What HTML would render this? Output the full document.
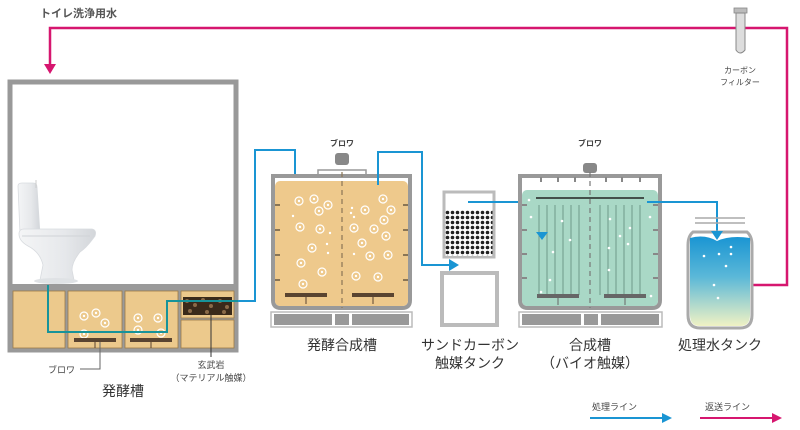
<!DOCTYPE html>
<html><head><meta charset="utf-8"><style>
html,body{margin:0;padding:0;background:#fff;}
svg{display:block;font-family:"Liberation Sans","Noto Sans CJK JP",sans-serif;}
</style></head><body>
<svg width="800" height="430" viewBox="0 0 800 430">
<defs>
<linearGradient id="wg" x1="0" y1="0" x2="0" y2="1">
<stop offset="0" stop-color="#1a95d3"/><stop offset="0.45" stop-color="#5bb8d8"/><stop offset="1" stop-color="#f0f2c4"/></linearGradient>
<linearGradient id="tg" x1="0" y1="0" x2="1" y2="0">
<stop offset="0" stop-color="#f4f5f6"/><stop offset="0.6" stop-color="#e6e8eb"/><stop offset="1" stop-color="#d3d6da"/></linearGradient>
<pattern id="dots" width="5" height="5" patternUnits="userSpaceOnUse"><rect width="5" height="5" fill="#fff"/><circle cx="2.5" cy="2.5" r="1.8" fill="#222"/></pattern>
<symbol id="bb" overflow="visible"><circle cx="0" cy="0" r="4" fill="none" stroke="#fff" stroke-width="1.2"/><circle cx="0" cy="0" r="1.2" fill="#fff"/></symbol>
</defs>
<text x="40" y="17" font-size="11" fill="#555" font-weight="bold">トイレ洗浄用水</text>
<polyline points="752,285 787,285 787,28 50,28 50,66" fill="none" stroke="#d6166f" stroke-width="2.5"/>
<path d="M44,64 L56,64 L50,74z" fill="#d6166f"/>
<rect x="734" y="8" width="13" height="5" fill="#bbb" stroke="#888" stroke-width="0.8"/>
<path d="M736,13 L745,13 L745,50 Q740,56 736,50z" fill="#ddd" stroke="#888" stroke-width="1"/>
<text x="740" y="73" font-size="8" fill="#444" text-anchor="middle">カーボン</text>
<text x="740" y="85" font-size="8" fill="#444" text-anchor="middle">フィルター</text>

<rect x="10" y="82" width="226" height="268" fill="#fff" stroke="#999" stroke-width="5"/>
<rect x="10" y="284" width="226" height="66" fill="#9a9a9a"/>
<g fill="#ecc98c" stroke="#9b7a48" stroke-width="0.8">
<rect x="13" y="291" width="52" height="57"/>
<rect x="68" y="291" width="54" height="57"/>
<rect x="125" y="291" width="53" height="57"/>
<rect x="181" y="291" width="53" height="27"/>
<rect x="181" y="320" width="53" height="28"/>
</g>
<rect x="183" y="297" width="49" height="18" fill="#3a2a1a"/>
<g fill="#8a6a48"><circle cx="187" cy="301" r="2"/><circle cx="195" cy="305" r="2"/><circle cx="203" cy="300" r="2"/><circle cx="211" cy="306" r="2"/><circle cx="220" cy="301" r="2"/><circle cx="227" cy="307" r="2"/><circle cx="190" cy="311" r="2"/><circle cx="207" cy="312" r="2"/><circle cx="224" cy="312" r="2"/></g>
<!-- toilet -->
<path d="M18,186 Q18,183 22,183 L33,183 Q37,183 37,187 L40,234 L20,234z" fill="url(#tg)" stroke="#d8dbdf" stroke-width="0.8"/>
<path d="M36,180 L36,188" stroke="#ccc"/>
<path d="M19,234 Q19,229 24,229 L92,229 Q97,230 95,236 L92,240 Q86,248 80,252 Q72,262 72,270 L74,280 Q60,284 40,280 L43,265 Q40,252 28,246 Q19,241 19,234z" fill="url(#tg)" stroke="#d8dbdf" stroke-width="0.8"/>
<path d="M22,236 L90,236" stroke="#d0d3d7" stroke-width="1"/>
<ellipse cx="56" cy="281" rx="22" ry="3" fill="#dfe2e5"/>
<!-- bubbles -->
<use href="#bb" x="84" y="316"/><use href="#bb" x="96" y="313"/><use href="#bb" x="105" y="323"/><use href="#bb" x="84" y="334"/>
<use href="#bb" x="138" y="318"/><use href="#bb" x="158" y="318"/><use href="#bb" x="138" y="330"/><use href="#bb" x="161" y="333"/>
<rect x="74" y="338" width="42" height="4" fill="#5a4430"/><rect x="130" y="338" width="42" height="4" fill="#5a4430"/>
<line x1="95" y1="342" x2="95" y2="348" stroke="#5a4430"/><line x1="151" y1="342" x2="151" y2="348" stroke="#5a4430"/>
<polyline points="48,285 48,332 167,332 167,301 238,301" fill="none" stroke="#17939a" stroke-width="2"/>
<polyline points="238,301 255,301 255,150 295,150 295,184" fill="none" stroke="#1a95d3" stroke-width="2"/>
<path d="M289,184 L301,184 L295,193z" fill="#1a95d3"/>
<text x="48" y="373" font-size="9" fill="#444">ブロワ</text>
<polyline points="80,369 100,369 100,342 M100,369 138,369 138,342" fill="none" stroke="#666"/>
<line x1="211" y1="315" x2="211" y2="357" stroke="#333"/>
<text x="211" y="368" font-size="9" fill="#444" text-anchor="middle">玄武岩</text>
<text x="211" y="381" font-size="9" fill="#444" text-anchor="middle">（マテリアル触媒）</text>
<text x="123" y="396" font-size="14" fill="#333" text-anchor="middle">発酵槽</text>

<text x="342" y="146" font-size="8" fill="#444" text-anchor="middle" font-weight="bold">ブロワ</text>
<rect x="335" y="153" width="14" height="12" rx="3" fill="#888"/>
<rect x="318" y="170" width="48" height="8" fill="#fff" stroke="#999" stroke-width="1.5"/>
<path d="M273,176 L410,176 L410,300 Q410,308 402,308 L281,308 Q273,308 273,300z" fill="#fff" stroke="#999" stroke-width="4"/>
<rect x="275" y="181" width="133" height="125" rx="5" fill="#eec98c"/>
<line x1="342" y1="172" x2="342" y2="308" stroke="#8a7555" stroke-width="1.2" stroke-dasharray="5,4"/>
<g stroke="#8a7555" stroke-width="2"><line x1="275" y1="205" x2="280" y2="205"/><line x1="275" y1="230" x2="280" y2="230"/><line x1="275" y1="255" x2="280" y2="255"/><line x1="275" y1="280" x2="280" y2="280"/><line x1="403" y1="205" x2="408" y2="205"/><line x1="403" y1="230" x2="408" y2="230"/><line x1="403" y1="255" x2="408" y2="255"/><line x1="403" y1="280" x2="408" y2="280"/></g>
<use href="#bb" x="299" y="201"/><use href="#bb" x="314" y="199"/><use href="#bb" x="319" y="211"/><use href="#bb" x="328" y="205"/><use href="#bb" x="300" y="227"/><use href="#bb" x="320" y="229"/><use href="#bb" x="312" y="248"/><use href="#bb" x="301" y="263"/><use href="#bb" x="322" y="272"/><use href="#bb" x="303" y="284"/>
<use href="#bb" x="383" y="199"/><use href="#bb" x="365" y="210"/><use href="#bb" x="391" y="210"/><use href="#bb" x="384" y="220"/><use href="#bb" x="354" y="228"/><use href="#bb" x="374" y="229"/><use href="#bb" x="386" y="236"/><use href="#bb" x="362" y="243"/><use href="#bb" x="370" y="256"/><use href="#bb" x="388" y="255"/><use href="#bb" x="356" y="276"/><use href="#bb" x="378" y="277"/>
<g fill="#fff"><circle cx="293" cy="216" r="1.2"/><circle cx="330" cy="233" r="1.2"/><circle cx="327" cy="244" r="1.2"/><circle cx="328" cy="253" r="1.2"/><circle cx="352" cy="208" r="1.2"/><circle cx="351" cy="213" r="1.2"/><circle cx="354" cy="217" r="1.2"/><circle cx="354" cy="254" r="1.2"/></g>
<rect x="285" y="293" width="42" height="4" fill="#5a4430"/><rect x="352" y="293" width="42" height="4" fill="#5a4430"/>
<line x1="306" y1="297" x2="306" y2="304" stroke="#5a4430"/><line x1="373" y1="297" x2="373" y2="304" stroke="#5a4430"/>
<rect x="271" y="312" width="141" height="15" fill="#fff" stroke="#bbb" stroke-width="1.5"/>
<rect x="274" y="314" width="58" height="11" fill="#999"/><rect x="335" y="314" width="14" height="11" fill="#999"/><rect x="352" y="314" width="57" height="11" fill="#999"/>
<text x="342" y="350" font-size="14" fill="#333" text-anchor="middle">発酵合成槽</text>
<polyline points="378,185 378,152 422,152 422,265 450,265" fill="none" stroke="#1a95d3" stroke-width="2"/>
<path d="M449,259 L459,265 L449,271z" fill="#1a95d3"/>

<rect x="444" y="192" width="50" height="65" fill="#fff" stroke="#bbb" stroke-width="3"/>
<rect x="445.5" y="210" width="47" height="46" fill="url(#dots)"/>
<rect x="442" y="273" width="55" height="52" fill="#fff" stroke="#bbb" stroke-width="4"/>
<polyline points="468,202 542,202 542,230" fill="none" stroke="#1a95d3" stroke-width="2"/>
<text x="470" y="350" font-size="14" fill="#333" text-anchor="middle">サンドカーボン</text>
<text x="470" y="368" font-size="14" fill="#333" text-anchor="middle">触媒タンク</text>

<text x="590" y="146" font-size="8" fill="#444" text-anchor="middle" font-weight="bold">ブロワ</text>
<rect x="583" y="163" width="14" height="10" rx="3" fill="#888"/>
<path d="M520,176 L660,176 L660,300 Q660,308 652,308 L528,308 Q520,308 520,300z" fill="#fff" stroke="#999" stroke-width="4"/>
<rect x="522" y="190" width="136" height="116" rx="5" fill="#a9d8c6"/>
<g stroke="#888" stroke-width="2"><line x1="558" y1="177" x2="558" y2="182"/><line x1="575" y1="177" x2="575" y2="182"/><line x1="606" y1="177" x2="606" y2="182"/><line x1="622" y1="177" x2="622" y2="182"/><line x1="640" y1="177" x2="640" y2="182"/><line x1="541" y1="177" x2="541" y2="182"/></g>
<line x1="590" y1="172" x2="590" y2="308" stroke="#777" stroke-width="1.2" stroke-dasharray="5,4"/>
<line x1="536" y1="198" x2="644" y2="198" stroke="#222" stroke-width="1.5"/>
<g stroke="#6e9a8a" stroke-width="1"><line x1="547" y1="205" x2="547" y2="295"/><line x1="555" y1="205" x2="555" y2="295"/><line x1="563" y1="205" x2="563" y2="295"/><line x1="571" y1="205" x2="571" y2="295"/><line x1="579" y1="205" x2="579" y2="295"/><line x1="600" y1="205" x2="600" y2="295"/><line x1="608" y1="205" x2="608" y2="295"/><line x1="616" y1="205" x2="616" y2="295"/><line x1="624" y1="205" x2="624" y2="295"/><line x1="632" y1="205" x2="632" y2="295"/><line x1="640" y1="205" x2="640" y2="295"/><line x1="539" y1="205" x2="539" y2="295"/></g>
<g stroke="#888" stroke-width="2"><line x1="522" y1="205" x2="527" y2="205"/><line x1="522" y1="230" x2="527" y2="230"/><line x1="522" y1="254" x2="527" y2="254"/><line x1="522" y1="278" x2="527" y2="278"/><line x1="653" y1="205" x2="658" y2="205"/><line x1="653" y1="230" x2="658" y2="230"/><line x1="653" y1="254" x2="658" y2="254"/><line x1="653" y1="278" x2="658" y2="278"/></g>
<g fill="#fff"><circle cx="529" cy="200" r="1.3"/><circle cx="531" cy="217" r="1.3"/><circle cx="562" cy="221" r="1.3"/><circle cx="570" cy="240" r="1.3"/><circle cx="553" cy="252" r="1.3"/><circle cx="550" cy="280" r="1.3"/><circle cx="541" cy="292" r="1.3"/><circle cx="610" cy="219" r="1.3"/><circle cx="630" cy="228" r="1.3"/><circle cx="620" cy="236" r="1.3"/><circle cx="628" cy="244" r="1.3"/><circle cx="609" cy="248" r="1.3"/><circle cx="609" cy="270" r="1.3"/><circle cx="650" cy="217" r="1.3"/><circle cx="651" cy="296" r="1.3"/></g>
<path d="M536,232 L548,232 L542,240z" fill="#1a95d3"/>
<rect x="537" y="294" width="42" height="4" fill="#666"/><rect x="604" y="294" width="42" height="4" fill="#666"/>
<line x1="558" y1="298" x2="558" y2="305" stroke="#666"/><line x1="625" y1="298" x2="625" y2="305" stroke="#666"/>
<rect x="519" y="312" width="143" height="15" fill="#fff" stroke="#bbb" stroke-width="1.5"/>
<rect x="522" y="314" width="59" height="11" fill="#999"/><rect x="584" y="314" width="14" height="11" fill="#999"/><rect x="601" y="314" width="58" height="11" fill="#999"/>
<text x="590" y="350" font-size="14" fill="#333" text-anchor="middle">合成槽</text>
<text x="590" y="368" font-size="14" fill="#333" text-anchor="middle">（バイオ触媒）</text>
<polyline points="647,202 717,202 717,232" fill="none" stroke="#1a95d3" stroke-width="2"/>

<line x1="695" y1="218" x2="745" y2="218" stroke="#aaa" stroke-width="1.5"/><line x1="695" y1="223" x2="745" y2="223" stroke="#aaa" stroke-width="1.5"/>
<path d="M693,232 Q688,236 688,245 L688,315 Q688,328 700,328 L740,328 Q752,328 752,315 L752,245 Q752,236 747,232z" fill="#fff" stroke="#aaa" stroke-width="3"/>
<path d="M690,238 Q705,234 717,241 Q730,235 750,238 L750,315 Q750,326 740,326 L700,326 Q690,326 690,315z" fill="url(#wg)"/>
<path d="M711,231 L723,231 L717,240z" fill="#1a95d3"/>
<g fill="#fff"><circle cx="704" cy="256" r="1.3"/><circle cx="719" cy="254" r="1.3"/><circle cx="731" cy="247" r="1.3"/><circle cx="731" cy="254" r="1.3"/><circle cx="726" cy="266" r="1.3"/><circle cx="714" cy="285" r="1.3"/><circle cx="718" cy="298" r="1.3"/></g>
<text x="720" y="350" font-size="14" fill="#333" text-anchor="middle">処理水タンク</text>

<text x="592" y="410" font-size="9" fill="#444">処理ライン</text>
<line x1="590" y1="418" x2="664" y2="418" stroke="#1a95d3" stroke-width="2"/>
<path d="M662,413 L672,418 L662,423z" fill="#1a95d3"/>
<text x="705" y="410" font-size="9" fill="#444">返送ライン</text>
<line x1="700" y1="418" x2="774" y2="418" stroke="#d6166f" stroke-width="2"/>
<path d="M772,413 L782,418 L772,423z" fill="#d6166f"/>
</svg>
</body></html>
